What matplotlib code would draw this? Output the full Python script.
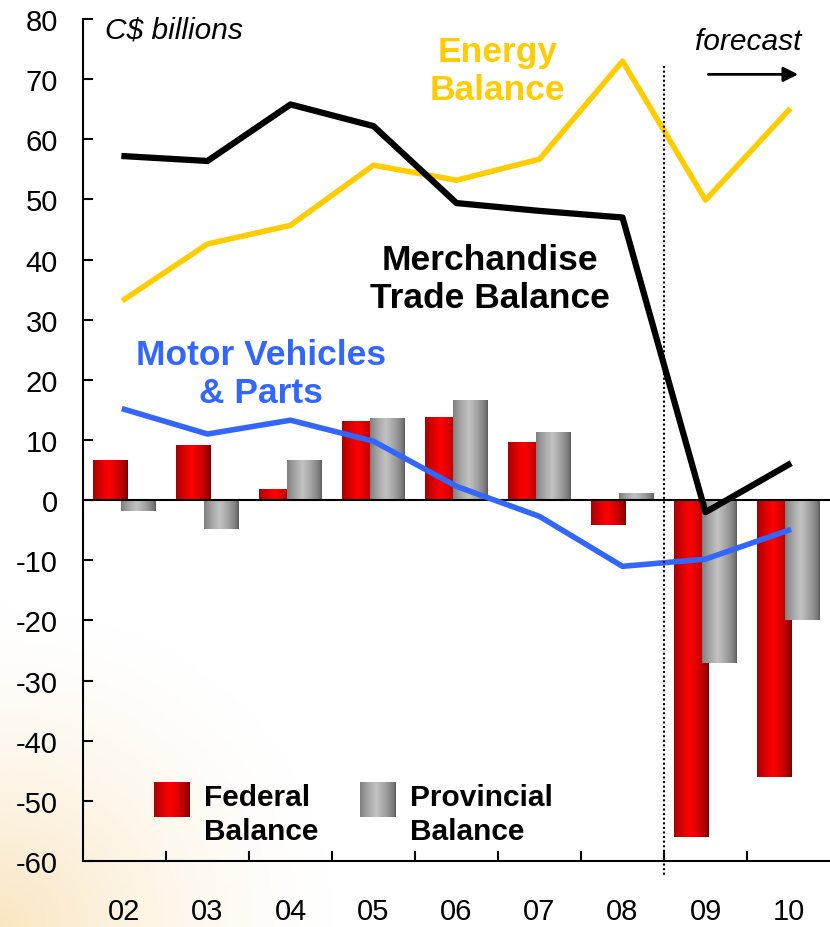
import matplotlib.pyplot as plt
import numpy as np

plt.rcParams['font.family'] = ['Liberation Sans', 'DejaVu Sans']
plt.rcParams['axes.unicode_minus'] = False

years = ["02", "03", "04", "05", "06", "07", "08", "09", "10"]
federal = [6.5, 9.1, 1.7, 13.1, 13.8, 9.5, -4.2, -56.0, -46.0]
provincial = [-1.8, -4.8, 6.5, 13.5, 16.5, 11.2, 1.0, -27.0, -20.0]
merchandise = [57.2, 56.4, 65.8, 62.2, 49.4, 48.1, 47.0, -2.0, 5.9]
energy = [33.4, 42.6, 45.7, 55.7, 53.2, 56.7, 73.0, 49.9, 64.8]
motor = [15.1, 11.0, 13.3, 9.8, 2.3, -2.7, -11.0, -9.8, -5.0]

GOLD = "#FFCC00"
BLUE = "#3366FF"

fig = plt.figure(figsize=(8.3, 9.28), dpi=100)

# faint warm glow in the lower left corner
bg = fig.add_axes([0, 0, 1, 1], zorder=-10)
gx, gy = np.meshgrid(np.linspace(0, 1, 200), np.linspace(0, 1, 220))
d = np.sqrt((gx / 0.42) ** 2 + (gy / 0.36) ** 2)
alpha = np.clip(1 - d, 0, 1) ** 1.6 * 0.5
img = np.zeros((220, 200, 4))
img[..., 0] = 0.96
img[..., 1] = 0.80
img[..., 2] = 0.52
img[..., 3] = alpha
bg.imshow(img, origin="lower", extent=[0, 1, 0, 1], aspect="auto")
bg.axis("off")

ax = fig.add_axes([0.1, 0.0711, 0.9, 0.9073])
ax.patch.set_alpha(0)
x = np.arange(len(years))


def cyl(dark, light, n=64):
    t = np.linspace(0, 1, n)
    w = np.clip(1 - np.abs(t - 0.45) / 0.55, 0, 1) ** 0.6
    dark = np.array(dark)
    light = np.array(light)
    return (dark[None, :] * (1 - w[:, None]) + light[None, :] * w[:, None])[None, :, :]


red_grad = cyl((0.45, 0.0, 0.0), (1.0, 0.0, 0.0))
gray_grad = cyl((0.35, 0.35, 0.35), (0.76, 0.76, 0.76))

bw = 0.42
fb = ax.bar(x - 0.165, federal, bw, color="red", zorder=2)
pb = ax.bar(x + 0.165, provincial, bw, color="gray", zorder=3)
for bars, grad, z in [(fb, red_grad, 2), (pb, gray_grad, 3)]:
    for p in bars:
        x0, y0 = p.get_x(), p.get_y()
        w, h = p.get_width(), p.get_height()
        ax.imshow(grad, extent=[x0, x0 + w, y0, y0 + h], aspect="auto",
                  zorder=z, interpolation="bilinear")
        p.set_visible(False)

ax.axhline(0, color="black", lw=1.5, zorder=4)

ax.plot(x, energy, color=GOLD, lw=4, zorder=5)
ax.plot(x, motor, color=BLUE, lw=4, zorder=5)
ax.plot(x, merchandise, color="black", lw=4.5, zorder=6)

ax.spines["top"].set_visible(False)
ax.spines["right"].set_visible(False)
ax.spines["left"].set_linewidth(1.5)
ax.spines["bottom"].set_linewidth(1.5)

ax.set_yticks(np.arange(-60, 81, 10))
ax.tick_params(axis="y", direction="in", length=7, width=1.5, labelsize=21, pad=18)
ax.set_xticks(x)
ax.set_xticklabels(years)
ax.tick_params(axis="x", length=0, labelsize=21, pad=26)
ax.set_xticks(np.arange(0.5, 8, 1), minor=True)
ax.tick_params(axis="x", which="minor", direction="in", length=7, width=1.5)

# forecast divider
ax.plot([6.5, 6.5], [72.2, -62.5], color="black", lw=1.5, ls=(0, (1, 1.2)),
        clip_on=False, zorder=7)

ax.text(-0.235, 78.3, "C$ billions", fontsize=21.5, style="italic", va="center", ha="left")
ax.text(4.49, 71.4, "Energy\nBalance", fontsize=25.5, fontweight="bold", color=GOLD,
        ha="center", va="center", linespacing=1.2)
ax.text(4.40, 36.9, "Merchandise\nTrade Balance", fontsize=25.5, fontweight="bold",
        color="black", ha="center", va="center", linespacing=1.2)
ax.text(1.64, 21.0, "Motor Vehicles\n& Parts", fontsize=25.5, fontweight="bold",
        color=BLUE, ha="center", va="center", linespacing=1.2)
ax.text(6.87, 76.4, "forecast", fontsize=21.5, style="italic", ha="left", va="center")
ax.annotate("", xy=(8.15, 70.8), xytext=(7.0, 70.8),
            arrowprops=dict(arrowstyle="-|>", color="black", lw=2, mutation_scale=22),
            annotation_clip=False)

# legend built from swatches
for lx, grad, label in [(0.355, red_grad, "Federal\nBalance"), (2.84, gray_grad, "Provincial\nBalance")]:
    ax.imshow(grad, extent=[lx, lx + 0.43, -52.7, -46.9], aspect="auto", zorder=8,
              interpolation="bilinear")
    ax.text(lx + 0.6, -52.2, label, fontsize=21.5, fontweight="bold", ha="left",
            va="center", linespacing=1.25, zorder=8)

ax.set_xlim(-0.5, 8.5)
ax.set_ylim(-60, 80)

fig.savefig("out.png", dpi=100)
